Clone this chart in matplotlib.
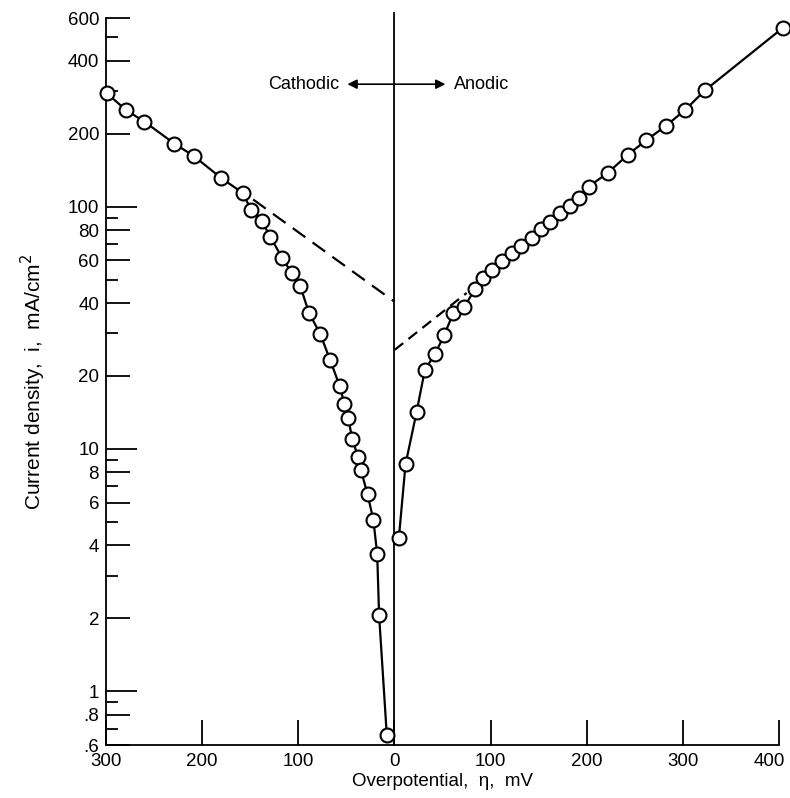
import numpy as np
import matplotlib
matplotlib.use("Agg")
import matplotlib.pyplot as plt
import matplotlib.transforms as mtransforms
from matplotlib.ticker import FixedLocator, FixedFormatter, NullFormatter

plt.rcParams['font.family'] = ['Liberation Sans', 'DejaVu Sans']

# cathodic branch (overpotential magnitude, mV) and current density (mA/cm2)
cath_eta = [299, 279, 260, 229, 209, 180, 158, 149, 138, 129, 117, 107, 98, 89,
            77, 67, 57, 52, 48, 44, 38, 35, 28, 22, 18, 16, 8]
cath_i = [293, 250, 224, 182, 162, 131, 114, 97, 87, 75, 61.5, 53.3, 47, 36.5,
          29.7, 23.3, 18.2, 15.3, 13.4, 11.0, 9.3, 8.2, 6.5, 5.1, 3.7, 2.06, 0.66]

# anodic branch
an_eta = [4.5, 11.5, 23, 31.6, 42, 51.8, 61, 72.6, 83.7, 92.4, 101.7, 111.5, 122,
          132, 143, 152, 162, 172, 183, 192, 202, 222, 243, 262, 282, 302, 323, 404]
an_i = [4.27, 8.65, 14.2, 21.2, 24.6, 29.5, 36.3, 38.6, 45.6, 50.6, 54.7, 59.8,
        64.5, 68.8, 74.4, 80.5, 86.6, 94.3, 101, 109, 121, 138, 164, 188, 215,
        250, 302, 547]

# Tafel extrapolations (dashed)
cath_tafel_eta = [147, 0]
cath_tafel_i = [107, 40.5]
an_tafel_eta = [0, 75]
an_tafel_i = [25.6, 44]

xtick_vals = [-300, -200, -100, 0, 100, 200, 300, 400]
xtick_labels = ['300', '200', '100', '0', '100', '200', '300', '400']
ymajor = [1, 10, 100]
ylabeled = [0.6, 0.8, 2, 4, 6, 8, 20, 40, 60, 80, 200, 400, 600]
ylabeled_txt = ['.6', '.8', '2', '4', '6', '8', '20', '40', '60', '80', '200', '400', '600']
yshort = [0.7, 0.9, 3, 5, 7, 9, 30, 50, 70, 90, 300, 500]

fsize = 13.5

fig = plt.figure(figsize=(7.9, 7.98), dpi=100)
ax = fig.add_axes([0.1342, 0.0664, 0.852, 0.911])
ax.set_yscale('log')
ax.set_xlim(-300, 400)
ax.set_ylim(0.6, 600)

# cathodic plotted on negative side of x
ax.plot(-np.array(cath_eta), cath_i, '-o', color='k', lw=1.6, ms=10,
        mfc='white', mec='k', mew=1.5, clip_on=False, zorder=3)
ax.plot(an_eta, an_i, '-o', color='k', lw=1.6, ms=10,
        mfc='white', mec='k', mew=1.5, clip_on=False, zorder=3)
ax.plot(-np.array(cath_tafel_eta), cath_tafel_i, color='k', lw=1.6, dashes=(7, 4))
ax.plot(an_tafel_eta, an_tafel_i, color='k', lw=1.6, dashes=(5, 3))

# zero overpotential line
ax.plot([0, 0], [0.6, 630], color='k', lw=1.3, clip_on=False)

# direction arrows
ax.annotate('', xy=(-49, 320), xytext=(0, 320),
            arrowprops=dict(arrowstyle='-|>', color='k', lw=1.2, mutation_scale=14,
                            shrinkA=0, shrinkB=0))
ax.annotate('', xy=(53, 320), xytext=(0, 320),
            arrowprops=dict(arrowstyle='-|>', color='k', lw=1.2, mutation_scale=14,
                            shrinkA=0, shrinkB=0))
ax.text(-57, 320, 'Cathodic', ha='right', va='center', fontsize=13)
ax.text(62, 320, 'Anodic', ha='left', va='center', fontsize=13)

for s in ['top', 'right']:
    ax.spines[s].set_visible(False)
ax.spines['left'].set_linewidth(1.3)
ax.spines['bottom'].set_linewidth(1.3)

ax.set_xticks(xtick_vals)
ax.set_xticklabels(xtick_labels)
ax.tick_params(axis='x', direction='in', length=18, width=1.3, labelsize=fsize, pad=6)
# nudge the last label so it stays inside the figure
last = ax.get_xticklabels()[-1]
last.set_transform(last.get_transform() +
                   mtransforms.ScaledTranslation(-7 / 72, 0, fig.dpi_scale_trans))

ax.yaxis.set_major_locator(FixedLocator(ymajor))
ax.yaxis.set_major_formatter(FixedFormatter(['1', '10', '100']))
ax.yaxis.set_minor_locator(FixedLocator(ylabeled))
ax.yaxis.set_minor_formatter(FixedFormatter(ylabeled_txt))
ax.tick_params(axis='y', which='major', direction='in', length=22, width=1.3,
               labelsize=fsize, pad=5)
ax.tick_params(axis='y', which='minor', direction='in', length=17, width=1.3,
               labelsize=fsize, pad=5)

# short unlabeled ticks
sec = ax.secondary_yaxis('left')
sec.set_yscale('log')
sec.yaxis.set_major_locator(FixedLocator(yshort))
sec.yaxis.set_major_formatter(NullFormatter())
sec.yaxis.set_minor_locator(FixedLocator([]))
sec.tick_params(axis='y', which='major', direction='in', length=8.5, width=1.3)
sec.spines['left'].set_visible(False)

ax.set_xlabel('Overpotential,  η,  mV', fontsize=13.5, labelpad=2)
ax.set_ylabel('Current density,  i,  mA/cm$^2$', fontsize=15, labelpad=14)

fig.savefig('out.png', dpi=100)
